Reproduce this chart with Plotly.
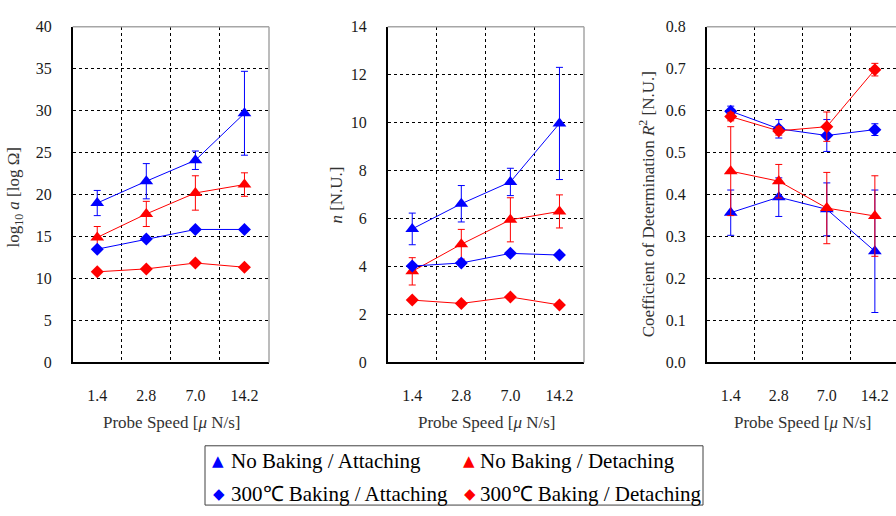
import plotly.graph_objects as go

# Probe speed categories [uN/s]
speeds = ["1.4", "2.8", "7.0", "14.2"]

# Series names
series_names = [
    "No Baking / Attaching",
    "No Baking / Detaching",
    "300℃ Baking / Attaching",
    "300℃ Baking / Detaching",
]

# log10 a [log Ohm]
loga_nb_att = [19.0, 21.6, 24.1, 29.7]
loga_nb_att_err = [1.5, 2.1, 1.1, 5.0]
loga_nb_det = [14.9, 17.7, 20.2, 21.2]
loga_nb_det_err = [1.3, 1.5, 2.05, 1.4]
loga_b_att = [13.5, 14.7, 15.85, 15.85]
loga_b_det = [10.8, 11.15, 11.85, 11.35]

# n [N.U.]
n_nb_att = [5.57, 6.62, 7.53, 9.97]
n_nb_att_err = [0.66, 0.76, 0.57, 2.34]
n_nb_det = [3.8, 4.93, 5.95, 6.3]
n_nb_det_err = [0.57, 0.62, 0.92, 0.69]
n_b_att = [4.02, 4.15, 4.55, 4.48]
n_b_det = [2.6, 2.46, 2.73, 2.4]

# Coefficient of determination R^2 [N.U.]
r2_nb_att = [0.357, 0.394, 0.365, 0.265]
r2_nb_att_err = [0.054, 0.046, 0.063, 0.146]
r2_nb_det = [0.456, 0.432, 0.368, 0.349]
r2_nb_det_err = [0.106, 0.04, 0.085, 0.096]
r2_b_att = [0.599, 0.557, 0.541, 0.555]
r2_b_att_err = [0.012, 0.022, 0.038, 0.014]
r2_b_det = [0.586, 0.552, 0.562, 0.698]
r2_b_det_err = [0.01, 0.01, 0.035, 0.015]

BLUE = "#0000ff"
RED = "#ff0000"
SERIF = "Liberation Serif"
W, H = 896, 516

fig = go.Figure()


def add_series(axis_idx, y, err, color, symbol, size):
    suffix = "" if axis_idx == 1 else str(axis_idx)
    kw = {}
    if err is not None:
        kw["error_y"] = dict(type="data", array=err, visible=True,
                             color=color, thickness=1, width=3.5)
    fig.add_trace(go.Scatter(
        x=speeds, y=y, mode="lines+markers",
        xaxis="x" + suffix, yaxis="y" + suffix,
        line=dict(color=color, width=1),
        marker=dict(symbol=symbol, size=size, color=color),
        showlegend=False, **kw))


panels = [
    (loga_nb_att, loga_nb_att_err, loga_nb_det, loga_nb_det_err,
     loga_b_att, None, loga_b_det, None),
    (n_nb_att, n_nb_att_err, n_nb_det, n_nb_det_err,
     n_b_att, None, n_b_det, None),
    (r2_nb_att, r2_nb_att_err, r2_nb_det, r2_nb_det_err,
     r2_b_att, r2_b_att_err, r2_b_det, r2_b_det_err),
]

for i, p in enumerate(panels, start=1):
    add_series(i, p[0], p[1], BLUE, "triangle-up", 12)
    add_series(i, p[2], p[3], RED, "triangle-up", 12)
    add_series(i, p[4], p[5], BLUE, "diamond", 10)
    add_series(i, p[6], p[7], RED, "diamond", 10)

# Plot-area placement in pixels (left, right)
x_px = [(72.7, 269.0), (387.7, 584.0), (706.7, 896.0)]
y_top, y_bot = 19.5, 366.5
ydom = [1 - y_bot / H, 1 - y_top / H]
x_ranges = [[-0.5, 3.5], [-0.5, 3.5], [-0.5, 3.44]]
y_ranges = [[0, 40], [0, 14], [0, 0.8]]
y_dticks = [5, 2, 0.1]
y_formats = ["d", "d", ".1f"]

tickfont = dict(family=SERIF, size=16, color="#1a1a1a")
for i in range(3):
    suffix = "" if i == 0 else str(i + 1)
    fig.layout["xaxis" + suffix] = dict(
        type="category", domain=[x_px[i][0] / W, x_px[i][1] / W],
        range=x_ranges[i], anchor="y" + suffix, tickson="boundaries",
        showgrid=True, gridcolor="#000000", gridwidth=1, griddash="3px,3px",
        showline=True, linecolor="#000000", linewidth=1.5,
        ticks="", ticklabelstandoff=18,
        tickfont=tickfont, fixedrange=True, zeroline=False)
    fig.layout["yaxis" + suffix] = dict(
        domain=ydom, range=y_ranges[i], dtick=y_dticks[i],
        tickformat=y_formats[i], anchor="x" + suffix,
        showgrid=True, gridcolor="#000000", gridwidth=1, griddash="3px,3px",
        showline=True, linecolor="#000000", linewidth=1.5,
        ticks="", ticklabelstandoff=16,
        tickfont=tickfont, zeroline=False, fixedrange=True)

shapes = []
# Light top and right frame edges
for i in range(3):
    suffix = "" if i == 0 else str(i + 1)
    shapes.append(dict(type="line", xref="x%s domain" % suffix,
                       yref="y%s domain" % suffix, x0=0, x1=1, y0=1, y1=1,
                       line=dict(color="#a6a6a6", width=1.5)))
    if i < 2:
        shapes.append(dict(type="line", xref="x%s domain" % suffix,
                           yref="y%s domain" % suffix, x0=1, x1=1, y0=0, y1=1,
                           line=dict(color="#a6a6a6", width=1.5)))

# Legend box
lg_l, lg_r, lg_t, lg_b = 205, 703, 452.7, 514
shapes.append(dict(type="rect", xref="paper", yref="paper",
                   x0=lg_l / W, x1=lg_r / W, y0=1 - lg_b / H, y1=1 - lg_t / H,
                   line=dict(color="#404040", width=1), fillcolor="white"))

annotations = []
title_font = dict(family=SERIF, size=17, color="#333333")
# X axis titles
for cx in [171, 486, 802]:
    annotations.append(dict(text="Probe Speed [<i>μ</i> N/s]", xref="paper",
                            yref="paper", x=cx / W, y=1 - 429 / H,
                            xanchor="center", yanchor="middle",
                            showarrow=False, font=title_font))
# Y axis titles (x centre, y centre in pixels)
y_titles = [
    ("log<sub>10</sub> <i>a</i> [log Ω]", 15, 196),
    ("<i>n</i> [N.U.]", 337, 194),
    ("Coefficient of Determination <i>R</i><sup>2</sup> [N.U.]", 647, 203),
]
for t, cx, cy in y_titles:
    annotations.append(dict(text=t, xref="paper", yref="paper",
                            x=cx / W, y=1 - cy / H, textangle=-90,
                            xanchor="center", yanchor="middle",
                            showarrow=False, font=title_font))

# Legend entries
legend_font = dict(family=SERIF, size=21, color="#000000")
entries = [
    (series_names[0], "▲", BLUE, 218, 229, 468.3),
    (series_names[1], "▲", RED, 469, 478, 468.3),
    (series_names[2], "◆", BLUE, 219, 229, 502.3),
    (series_names[3], "◆", RED, 470, 478, 502.3),
]
for name, glyph, color, gx, tx, ty in entries:
    annotations.append(dict(text=glyph, xref="paper", yref="paper",
                            x=gx / W, y=1 - ty / H, xanchor="center",
                            yanchor="middle", showarrow=False,
                            font=dict(family="DejaVu Sans", size=15, color=color)))
    annotations.append(dict(text=name, xref="paper", yref="paper",
                            x=tx / W, y=1 - ty / H, xanchor="left",
                            yanchor="middle", showarrow=False, font=legend_font))

fig.update_layout(
    width=W, height=H, margin=dict(l=0, r=0, t=0, b=0),
    paper_bgcolor="white", plot_bgcolor="white",
    shapes=shapes, annotations=annotations, showlegend=False,
)

fig.write_html("out.html")
